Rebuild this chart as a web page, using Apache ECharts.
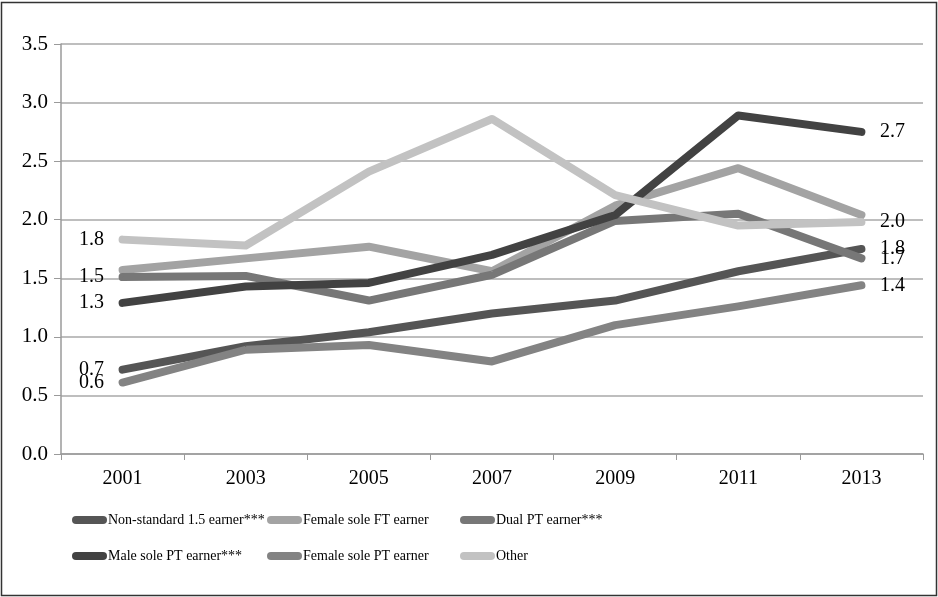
<!DOCTYPE html>
<html>
<head>
<meta charset="utf-8">
<script src="https://cdn.jsdelivr.net/npm/echarts@6/dist/echarts.min.js"></script>
<style>
html,body{margin:0;padding:0;background:#fff;}
#c{width:938px;height:597px;}
</style>
</head>
<body>
<div id="c"></div>
<script>
var years = ['2001','2003','2005','2007','2009','2011','2013'];
var yTicks = [0, 0.5, 1.0, 1.5, 2.0, 2.5, 3.0, 3.5];
var nonStandard = [0.72, 0.92, 1.04, 1.20, 1.31, 1.56, 1.75];
var femaleFT    = [1.57, 1.67, 1.77, 1.56, 2.12, 2.44, 2.04];
var dualPT      = [1.51, 1.52, 1.31, 1.53, 1.99, 2.05, 1.67];
var maleSolePT  = [1.29, 1.43, 1.46, 1.70, 2.04, 2.89, 2.75];
var femalePT    = [0.61, 0.89, 0.93, 0.79, 1.10, 1.26, 1.44];
var other       = [1.83, 1.78, 2.41, 2.86, 2.21, 1.95, 1.98];
var names = ['Non-standard 1.5 earner***','Female sole FT earner','Dual PT earner***','Male sole PT earner***','Female sole PT earner','Other'];
var endLabels = {
  'Non-standard 1.5 earner***': ['0.7','1.8'],
  'Female sole FT earner': [null,null],
  'Dual PT earner***': ['1.5','1.7'],
  'Male sole PT earner***': ['1.3','2.7'],
  'Female sole PT earner': ['0.6','1.4'],
  'Other': ['1.8','2.0']
};

var colors = ['#555555','#a3a3a3','#777777','#424242','#838383','#c2c2c2'];
var seriesData = [nonStandard, femaleFT, dualPT, maleSolePT, femalePT, other];
var font = 'Liberation Serif';

var series = names.map(function(n, i){
  var d = seriesData[i].map(function(v, j){
    var item = {value: v};
    var lab = endLabels[n];
    if (j === 0 && lab[0]) {
      item.label = {show:true, position:'left', distance:18, formatter: lab[0]};
    } else if (j === seriesData[i].length-1 && lab[1]) {
      item.label = {show:true, position:'right', distance:18, formatter: lab[1]};
    }
    return item;
  });
  return {
    name: n, type:'line', data: d, showSymbol:true, symbol:'circle', symbolSize:1,
    lineStyle:{width:8, color: colors[i], cap:'round', join:'round'},
    itemStyle:{color: colors[i]},
    label:{show:false, color:'#000', fontFamily:font, fontSize:20},
    labelLayout:{hideOverlap:false},
    emphasis:{disabled:true},
    z: 2
  };
});
var iconPath = 'path://M4,0 L31,0 A4,4 0 0 1 31,8 L4,8 A4,4 0 0 1 4,0 Z';
var legendPos = [[72,510],[267,510],[460,510],[72,546],[267,546],[460,546]];
var legends = names.map(function(n, i){
  return {
    data:[n], left: legendPos[i][0], top: legendPos[i][1], padding:0,
    itemWidth: 35, itemHeight: 8, icon: iconPath,
    textStyle:{fontFamily:font, fontSize:14, lineHeight:20, color:'#000', padding:[0,0,0,-4]},
    selectedMode:false
  };
});
var chart = echarts.init(document.getElementById('c'));
chart.setOption({
  animation:false,
  backgroundColor:'#fff',
  grid:{left:61, right:15, top:44, bottom:143, containLabel:false},
  xAxis:{
    type:'category', data: years, boundaryGap:true,
    axisLine:{lineStyle:{color:'#9a9a9a', width:1.5}},
    axisTick:{show:true, length:6, lineStyle:{color:'#9a9a9a'}},
    axisLabel:{fontFamily:font, fontSize:20, color:'#000', margin:15}
  },
  yAxis:{
    type:'value', min:0, max:3.5, interval:0.5,
    axisLine:{show:true, lineStyle:{color:'#9a9a9a', width:1.5}},
    axisTick:{show:true, length:7, lineStyle:{color:'#9a9a9a'}},
    splitLine:{lineStyle:{color:'#a8a8a8', width:1.5}},
    axisLabel:{fontFamily:font, fontSize:21, color:'#000', margin:13,
      formatter:function(v){return v.toFixed(1);}}
  },
  legend: legends,
  graphic:[{type:'rect', shape:{x:1.5, y:2.5, width:935, height:593},
    style:{fill:null, stroke:'#333', lineWidth:1.5}, silent:true}],
  series: series
});
</script>
</body>
</html>
